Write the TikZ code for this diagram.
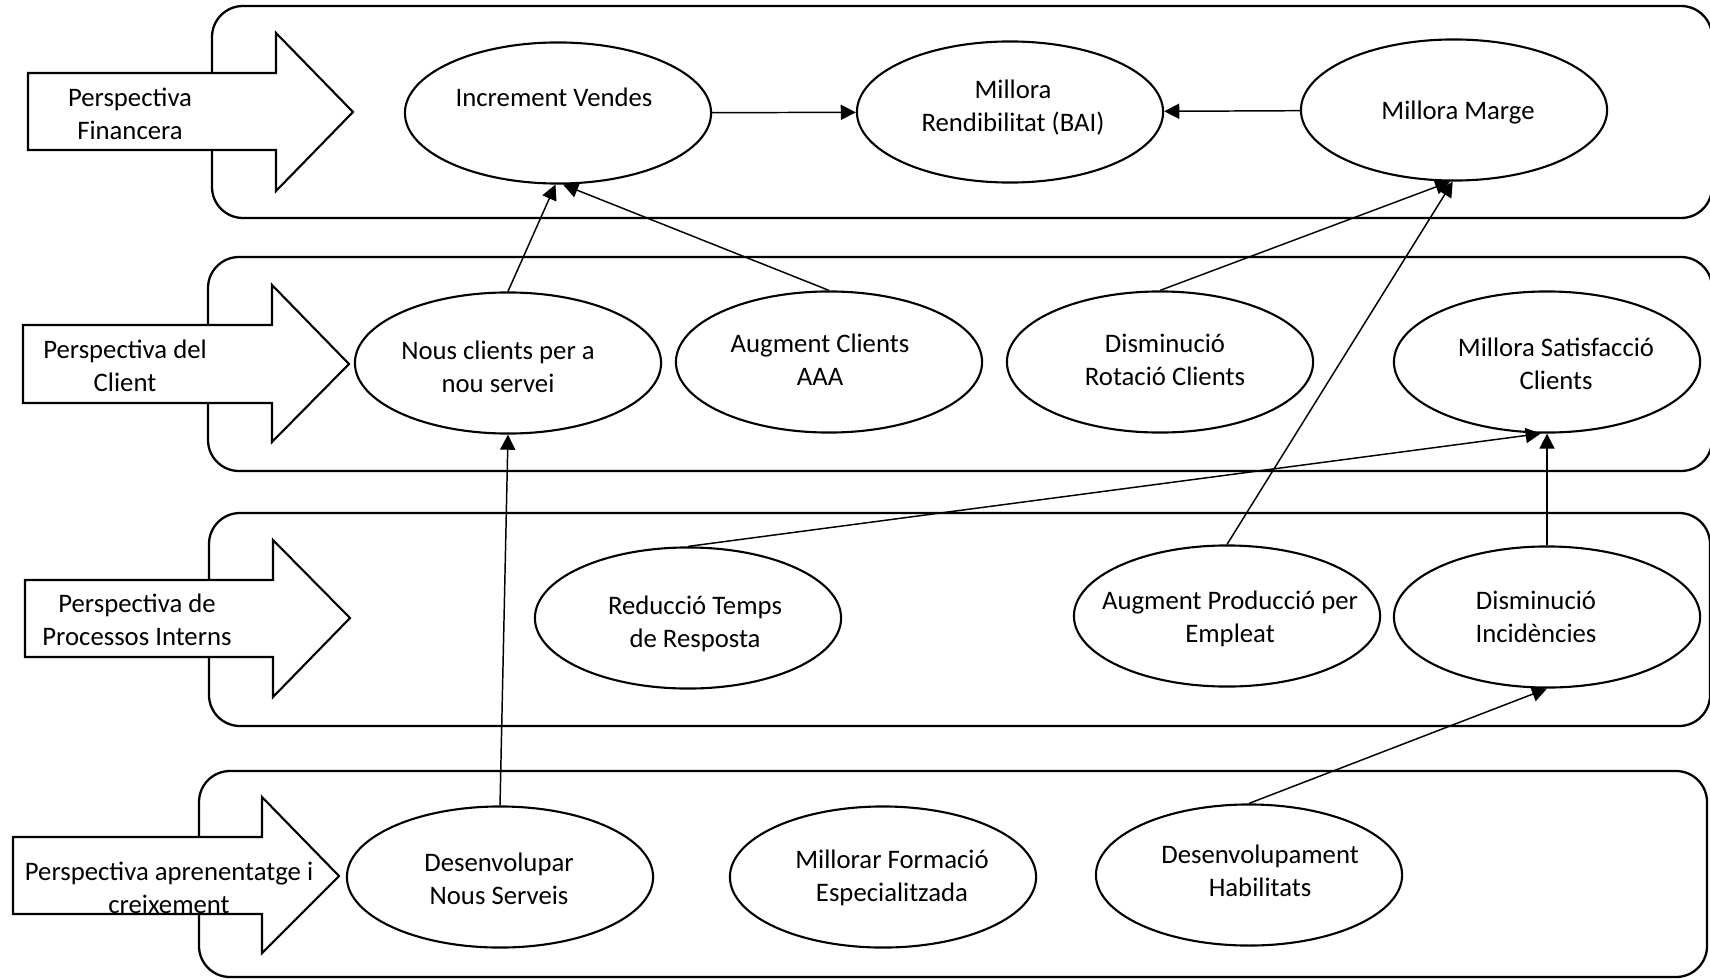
\documentclass[tikz,border=0pt]{standalone}
\usepackage{fontspec}
\setmainfont{Carlito}
\usepackage{tikz}
\usetikzlibrary{shapes.geometric}
\usetikzlibrary{arrows.meta}

\tikzset{
  band/.style={draw, line width=0.65pt, rounded corners=3.1mm},
  persp/.style={draw, fill=white, line width=0.6pt},
  plabel/.style={align=center, inner sep=0pt},
  goal/.style={draw, ellipse, fill=white, line width=0.6pt, inner sep=0pt,
    minimum width=3.06cm, minimum height=1.41cm},
  flow/.style={-{Triangle[length=4.3pt,width=4.3pt]}, line width=0.42pt},
}
% text of an ellipse (x offset, y offset, lines), kept out of the ellipse size
\newcommand{\gtext}[3]{\makebox[0pt]{\hspace*{#1}\hspace*{#1}\raisebox{#2}[\height][\depth]{\begin{tabular}{@{}c@{}}#3\end{tabular}}}}

\begin{document}
\begin{tikzpicture}
          [x=0.01cm, y=-0.01cm, every node/.style={font=\fontsize{7.6}{9.4}\selectfont}]
          \useasboundingbox (0,0) rectangle (1710,979);

          % the four bands
          \draw[band] (212,6) rectangle (1712,218);
          \draw[band] (208,257) rectangle (1712,471);
          \draw[band] (209,513) rectangle (1710,726);
          \draw[band] (199,771) rectangle (1707,977);

          % perspective arrows
          \draw[persp] (28,73) -- (276,73) -- (276,33) -- (353,112) -- (276,191) -- (276,150) -- (28,150) -- cycle;
          \node[plabel] (pfin) at (130,114) {Perspectiva\\Financera};

          \draw[persp] (23,325) -- (272,325) -- (272,285) -- (349,364) -- (272,442) -- (272,403) -- (23,403) -- cycle;
          \node[plabel] (pcli) at (125,366) {Perspectiva del\\Client};

          \draw[persp] (25,580) -- (273,580) -- (273,540) -- (350,618) -- (273,697) -- (273,657) -- (25,657) -- cycle;
          \node[plabel] (ppro) at (137,620) {Perspectiva de\\Processos Interns};

          \draw[persp] (13,837) -- (262,837) -- (262,797) -- (339,876) -- (262,953) -- (262,914) -- (13,914) -- cycle;
          \node[plabel] (papr) at (169,888) {Perspectiva aprenentatge i\\creixement};

          % financera
          \node[goal] (iv) at (558,113) {\gtext{-0.4mm}{1.3mm}{Increment Vendes}};
          \node[goal] (mr) at (1010,112) {\gtext{0.3mm}{0.4mm}{Millora\\Rendibilitat (BAI)}};
          \node[goal] (mm) at (1454,110) {\gtext{0.4mm}{-0.3mm}{Millora Marge}};

          % client
          \node[goal] (nc) at (508,363) {\gtext{-1mm}{-0.6mm}{Nous clients per a\\nou servei}};
          \node[goal] (ac) at (829,362) {\gtext{-0.9mm}{0mm}{Augment Clients\\AAA}};
          \node[goal] (dr) at (1160,362) {\gtext{0.5mm}{0mm}{Disminució\\Rotació Clients}};
          \node[goal] (ms) at (1547,362) {\gtext{0.9mm}{-0.4mm}{Millora Satisfacció\\Clients}};

          % processos interns
          \node[goal] (rt) at (688,618) {\gtext{0.7mm}{-0.6mm}{Reducció Temps\\de Resposta}};
          \node[goal] (ap) at (1227,616) {\gtext{0.3mm}{-0.3mm}{Augment Producció per\\Empleat}};
          \node[goal] (di) at (1547,617) {\gtext{-1.1mm}{-0.2mm}{Disminució\\Incidències}};

          % aprenentatge
          \node[goal] (dn) at (500,877) {\gtext{-0.1mm}{-0.4mm}{Desenvolupar\\Nous Serveis}};
          \node[goal] (mf) at (883,877) {\gtext{0.9mm}{-0.1mm}{Millorar Formació\\Especialitzada}};
          \node[goal] (dh) at (1249,875) {\gtext{1.1mm}{0.2mm}{Desenvolupament\\Habilitats}};

          \draw[flow] (iv) -- (mr);
          \draw[flow] (mm) -- (mr);

          \draw[flow] (nc.north) -- (iv.-92);
          \draw[flow] (ac.north) -- (iv.-86);
          \draw[flow] (dr.north) -- (mm.-93);
          \draw[flow] (ap.north) -- (mm.-91);

          \draw[flow] (rt.north) -- (ms.-95);
          \draw[flow] (di.north) -- (ms.south);
          \draw[flow] (dn.north) -- (nc.south);
          \draw[flow] (dh.north) -- (di.south);

        \end{tikzpicture}
\end{document}
